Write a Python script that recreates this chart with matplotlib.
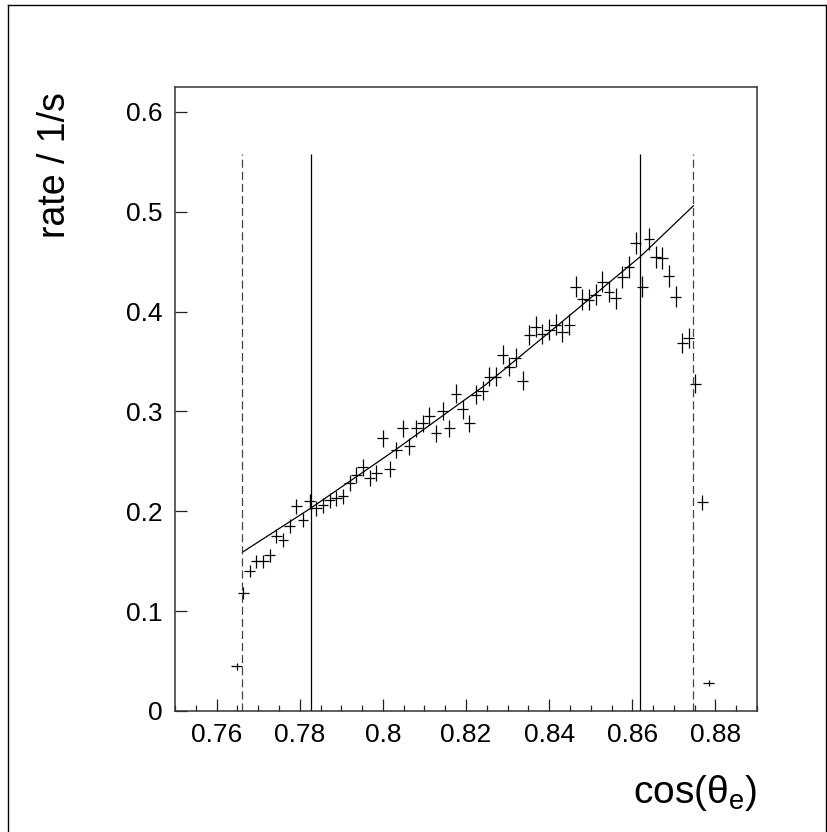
import numpy as np
import matplotlib
matplotlib.use('Agg')
import matplotlib.pyplot as plt

plt.rcParams['font.family'] = ['Liberation Sans', 'DejaVu Sans']
plt.rcParams['mathtext.fontset'] = 'custom'
plt.rcParams['mathtext.rm'] = 'Liberation Sans'
plt.rcParams['mathtext.it'] = 'Liberation Sans'
plt.rcParams['lines.scale_dashes'] = False

# histogram: bin centres start at 0.7648, bin width 0.0016
bin_first = 0.7648
bin_width = 0.0016
rate = [0.045, 0.118, 0.140, 0.150, 0.150, 0.156, 0.175, 0.171, 0.185, 0.205,
        0.191, 0.210, 0.203, 0.206, 0.211, 0.213, 0.215, 0.228, 0.236, 0.244,
        0.233, 0.238, 0.273, 0.242, 0.2615, 0.283, 0.265, 0.283, 0.288, 0.295,
        0.278, 0.300, 0.283, 0.318, 0.302, 0.288, 0.317, 0.321, 0.335, 0.335,
        0.357, 0.345, 0.354, 0.331, 0.377, 0.385, 0.378, 0.382, 0.387, 0.380,
        0.387, 0.425, 0.4125, 0.412, 0.417, 0.430, 0.420, 0.4135, 0.435, 0.445,
        0.4686, 0.425, 0.4726, 0.455, 0.4536, 0.436, 0.415, 0.369, 0.374, 0.328,
        0.209, 0.028]
rate_err = [0.0035, 0.0057, 0.0062, 0.0064, 0.0064, 0.0065, 0.0069, 0.0068, 0.0071, 0.0075,
            0.0072, 0.0076, 0.0074, 0.0075, 0.0076, 0.0076, 0.0077, 0.0079, 0.0080, 0.0082,
            0.0080, 0.0081, 0.0086, 0.0081, 0.0084, 0.0088, 0.0085, 0.0088, 0.0089, 0.0090,
            0.0087, 0.0090, 0.0088, 0.0093, 0.0091, 0.0089, 0.0093, 0.0093, 0.0096, 0.0096,
            0.0099, 0.0097, 0.0098, 0.0095, 0.0101, 0.0102, 0.0101, 0.0102, 0.0103, 0.0102,
            0.0103, 0.0108, 0.0106, 0.0106, 0.0107, 0.0108, 0.0107, 0.0106, 0.0109, 0.0110,
            0.0113, 0.0108, 0.0113, 0.0111, 0.0111, 0.0109, 0.0106, 0.0100, 0.0101, 0.0094,
            0.0075, 0.0028]
cos_theta = bin_first + bin_width * np.arange(len(rate))

# fit curve
fit_x = [0.7662, 0.7826, 0.8030, 0.8247, 0.8427, 0.8619, 0.8747]
fit_y = [0.159, 0.203, 0.2615, 0.3267, 0.3885, 0.455, 0.506]

# cut lines
outer_cuts = [0.7662, 0.8747]
inner_cuts = [0.7826, 0.8619]
cut_top = 0.558

fig = plt.figure(figsize=(8.28, 8.32), dpi=100)
ax = fig.add_axes([175 / 828, 1 - 711 / 832, 582 / 828, 624 / 832])

ax.errorbar(cos_theta, rate, xerr=0.0013, yerr=rate_err, fmt='none',
            ecolor='black', elinewidth=0.9, capsize=0)
ax.plot(fit_x, fit_y, color='black', lw=0.9)
ax.vlines(inner_cuts, 0, cut_top, colors='black', lw=0.9)
ax.vlines(outer_cuts, 0, cut_top, colors='#444444', lw=0.9, linestyles=(0, (5.8, 2.9)))

ax.set_xlim(0.75, 0.89)
ax.set_ylim(0, 0.625)
ax.set_xticks([0.76, 0.78, 0.80, 0.82, 0.84, 0.86, 0.88])
ax.set_xticklabels(['0.76', '0.78', '0.8', '0.82', '0.84', '0.86', '0.88'])
ax.set_xticks(np.arange(0.75, 0.8901, 0.005), minor=True)
ax.set_yticks([0, 0.1, 0.2, 0.3, 0.4, 0.5, 0.6])
ax.set_yticklabels(['0', '0.1', '0.2', '0.3', '0.4', '0.5', '0.6'])

ax.tick_params(axis='both', which='both', direction='in', labelsize=19, width=0.9, color='#222222')
ax.tick_params(axis='x', which='major', length=8.9, pad=9, top=False)
ax.tick_params(axis='x', which='minor', length=4.5, top=False)
ax.tick_params(axis='y', which='major', length=8.9, pad=9, right=False)
for s in ax.spines.values():
    s.set_linewidth(1.1)
    s.set_color('#333333')

ax.set_xlabel(r'cos($\theta_{e}$)', fontsize=28, ha='right')
ax.xaxis.set_label_coords(1.0, -0.10)
fig.text(55 / 828, 1 - 92 / 832, 'rate / 1/s', rotation=90, fontsize=27,
         ha='center', va='top')

# canvas border
fig.add_artist(plt.Line2D([8 / 828, 8 / 828], [0, 1 - 5 / 832], transform=fig.transFigure,
                          color='black', lw=1.0))
fig.add_artist(plt.Line2D([8 / 828, 826 / 828], [1 - 5 / 832, 1 - 5 / 832],
                          transform=fig.transFigure, color='black', lw=1.0))
fig.add_artist(plt.Line2D([826 / 828, 826 / 828], [0, 1 - 5 / 832], transform=fig.transFigure,
                          color='black', lw=1.0))

fig.savefig('out.png', dpi=100)
